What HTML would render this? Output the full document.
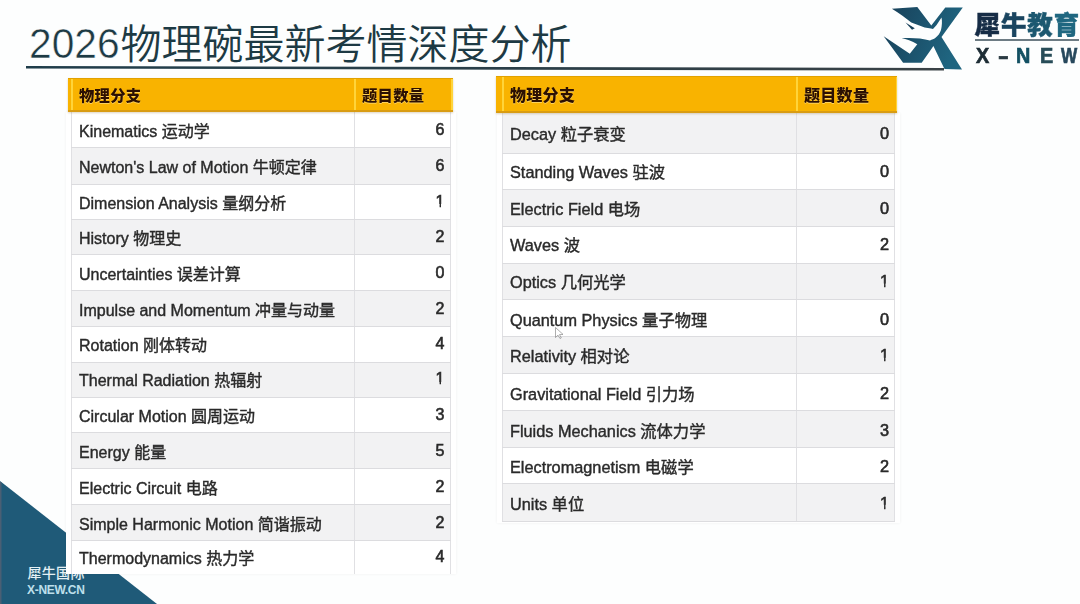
<!DOCTYPE html>
<html><head><meta charset="utf-8">
<style>
*{margin:0;padding:0;box-sizing:border-box}
html,body{width:1080px;height:604px;overflow:hidden;background:#fdfefe}
body{position:relative;-webkit-font-smoothing:antialiased;font-family:"Liberation Sans","Noto Sans CJK SC",sans-serif;color:#333}
.title{position:absolute;left:0;top:0;color:#1d3a44;white-space:nowrap}
.td{position:absolute;left:29px;top:18.5px;font-size:42.5px;line-height:50px;font-family:"Liberation Sans",sans-serif;transform:scaleX(0.958);transform-origin:0 0;-webkit-text-stroke:0.5px #fefefe}
.tc{position:absolute;left:120.5px;top:13px;font-size:41px;line-height:56px;font-family:"Noto Sans CJK SC",sans-serif;font-weight:350}
.uline{position:absolute;left:26px;top:66px;width:920px;height:2px;background:#2c4049}
.tri{position:absolute;left:0;top:0}
.frame{position:absolute;background:#fff;box-shadow:0 0 3px rgba(0,0,0,0.06)}
.row{position:absolute;will-change:transform;white-space:nowrap}
.row .lab{position:absolute;left:8px;top:50%;transform:translateY(-50%);color:#2a2a2a;-webkit-text-stroke:0.4px #2a2a2a}
.row .num{position:absolute;top:50%;transform:translateY(-50%);color:#2a2a2a;-webkit-text-stroke:0.6px #2a2a2a}
.one{clip-path:polygon(0 0,100% 0,100% 0.72em,0.338em 0.72em,0.338em 100%,0.252em 100%,0.252em 0.72em,0 0.72em)}
.vl{position:absolute;width:1px;background:#e0e0e3}
.hl{position:absolute;height:1px;background:#dcdcdf}
.hdr{position:absolute;background:#f9b300;border-top:1px solid #e2a200;border-bottom:2px solid #d99c12;box-shadow:0 1px 2px rgba(120,80,0,0.25)}
.hdr span{position:absolute;top:50%;transform:translateY(-50%);font-weight:900;color:#2c1002;font-family:"Noto Sans CJK SC",sans-serif;letter-spacing:0.3px;text-shadow:0 1px 0.5px rgba(255,235,170,0.55)}
.hdr .hv{position:absolute;top:0;bottom:0;width:1.5px;background:#ffd43a}
.logo{position:absolute;left:880px;top:0}
.brand{position:absolute;left:974.5px;top:6px;font-size:25.5px;font-weight:900;font-family:"Noto Sans CJK SC",sans-serif;line-height:34px;letter-spacing:0.9px;white-space:nowrap;-webkit-text-stroke:0.4px currentColor}
.brand span{-webkit-text-stroke:0.4px currentColor}
.bline{position:absolute;left:975px;top:39px;width:104px;height:1.5px;background:#6d7c84}
.xnew{position:absolute;left:975.8px;top:44.5px;font-size:22px;font-weight:700;line-height:22px;white-space:nowrap;font-family:"Liberation Sans",sans-serif;color:#1d4d5f}
.xnew span{position:absolute;top:0;transform:scaleX(0.9);transform-origin:0 0;-webkit-text-stroke:0.7px currentColor}
.wm1{position:absolute;left:27.5px;top:562.5px;font-size:14px;color:#e4f0f4;font-family:"Noto Sans CJK SC",sans-serif;font-weight:500;line-height:18px;letter-spacing:0.3px}
.wm2{position:absolute;left:27px;top:584px;font-size:12px;color:#cfeef8;font-weight:700;line-height:12px;letter-spacing:-0.3px;opacity:0.9}
</style></head><body>
<svg class="tri" width="1080" height="604"><polygon points="0,481 0,604 157,604" fill="#1f5a78"/><rect x="0" y="482" width="1.5" height="122" fill="#4a5f74"/></svg>
<div class="wm1">犀牛国际</div>
<div class="wm2">X-NEW.CN</div>
<div class="title"><span class="td">2026</span><span class="tc">物理碗最新考情深度分析</span></div>
<svg class="ul" width="1080" height="80" style="position:absolute;left:0;top:0"><defs><linearGradient id="ulg" x1="0" x2="1" y1="0" y2="0"><stop offset="0" stop-color="#1f3d4a"/><stop offset="0.6" stop-color="#2c3f48"/><stop offset="1" stop-color="#3a4246"/></linearGradient></defs><polygon points="26,66 944,68 944,70.6 26,68.6" fill="url(#ulg)"/></svg>
<div class="frame" style="left:66px;top:112px;width:389.5px;height:462.0px"></div>
<div class="row" style="left:71px;top:111.9px;width:379.5px;height:35.8px;background:#ffffff;font-size:16px"><span class="lab">Kinematics 运动学</span><span class="num" style="right:6px">6</span></div>
<div class="row" style="left:71px;top:147.7px;width:379.5px;height:36.5px;background:#f2f2f3;font-size:16px"><span class="lab">Newton&#39;s Law of Motion 牛顿定律</span><span class="num" style="right:6px">6</span></div>
<div class="row" style="left:71px;top:184.2px;width:379.5px;height:35.0px;background:#ffffff;font-size:16px"><span class="lab">Dimension Analysis 量纲分析</span><span class="num one" style="right:6px">1</span></div>
<div class="row" style="left:71px;top:219.2px;width:379.5px;height:35.3px;background:#f2f2f3;font-size:16px"><span class="lab">History 物理史</span><span class="num" style="right:6px">2</span></div>
<div class="row" style="left:71px;top:254.5px;width:379.5px;height:36.2px;background:#ffffff;font-size:16px"><span class="lab">Uncertainties 误差计算</span><span class="num" style="right:6px">0</span></div>
<div class="row" style="left:71px;top:290.7px;width:379.5px;height:35.7px;background:#f2f2f3;font-size:16px"><span class="lab">Impulse and Momentum 冲量与动量</span><span class="num" style="right:6px">2</span></div>
<div class="row" style="left:71px;top:326.4px;width:379.5px;height:35.8px;background:#ffffff;font-size:16px"><span class="lab">Rotation 刚体转动</span><span class="num" style="right:6px">4</span></div>
<div class="row" style="left:71px;top:362.2px;width:379.5px;height:34.8px;background:#f2f2f3;font-size:16px"><span class="lab">Thermal Radiation 热辐射</span><span class="num one" style="right:6px">1</span></div>
<div class="row" style="left:71px;top:397px;width:379.5px;height:35.5px;background:#ffffff;font-size:16px"><span class="lab">Circular Motion 圆周运动</span><span class="num" style="right:6px">3</span></div>
<div class="row" style="left:71px;top:432.5px;width:379.5px;height:36.1px;background:#f2f2f3;font-size:16px"><span class="lab">Energy 能量</span><span class="num" style="right:6px">5</span></div>
<div class="row" style="left:71px;top:468.6px;width:379.5px;height:36.2px;background:#ffffff;font-size:16px"><span class="lab">Electric Circuit 电路</span><span class="num" style="right:6px">2</span></div>
<div class="row" style="left:71px;top:504.8px;width:379.5px;height:35.6px;background:#f2f2f3;font-size:16px"><span class="lab">Simple Harmonic Motion 简谐振动</span><span class="num" style="right:6px">2</span></div>
<div class="row" style="left:71px;top:540.4px;width:379.5px;height:33.1px;background:#ffffff;font-size:16px"><span class="lab">Thermodynamics 热力学</span><span class="num" style="right:6px">4</span></div>
<div class="vl" style="left:71px;top:112px;height:461.5px"></div>
<div class="vl" style="left:354px;top:112px;height:461.5px"></div>
<div class="vl" style="left:449.5px;top:112px;height:461.5px"></div>
<div class="hl" style="left:71px;top:147.2px;width:379.5px"></div>
<div class="hl" style="left:71px;top:183.7px;width:379.5px"></div>
<div class="hl" style="left:71px;top:218.7px;width:379.5px"></div>
<div class="hl" style="left:71px;top:254.0px;width:379.5px"></div>
<div class="hl" style="left:71px;top:290.2px;width:379.5px"></div>
<div class="hl" style="left:71px;top:325.9px;width:379.5px"></div>
<div class="hl" style="left:71px;top:361.7px;width:379.5px"></div>
<div class="hl" style="left:71px;top:396.5px;width:379.5px"></div>
<div class="hl" style="left:71px;top:432.0px;width:379.5px"></div>
<div class="hl" style="left:71px;top:468.1px;width:379.5px"></div>
<div class="hl" style="left:71px;top:504.3px;width:379.5px"></div>
<div class="hl" style="left:71px;top:539.9px;width:379.5px"></div>
<div class="hdr" style="left:67.5px;top:77.6px;width:385.0px;height:34.4px;font-size:15.3px"><span class="h1" style="left:11.5px">物理分支</span><span class="h2" style="left:294.5px">题目数量</span><i class="hv" style="left:3.5px"></i><i class="hv" style="left:286.5px"></i><i class="hv" style="left:383.5px"></i></div>
<div class="frame" style="left:497px;top:112.7px;width:403px;height:410.3px"></div>
<div class="row" style="left:502px;top:112.7px;width:393px;height:40.6px;background:#f2f2f3;font-size:16.3px"><span class="lab">Decay 粒子衰变</span><span class="num" style="right:6px">0</span></div>
<div class="row" style="left:502px;top:153.3px;width:393px;height:35.9px;background:#ffffff;font-size:16.3px"><span class="lab">Standing Waves 驻波</span><span class="num" style="right:6px">0</span></div>
<div class="row" style="left:502px;top:189.2px;width:393px;height:37.2px;background:#f2f2f3;font-size:16.3px"><span class="lab">Electric Field 电场</span><span class="num" style="right:6px">0</span></div>
<div class="row" style="left:502px;top:226.4px;width:393px;height:36.6px;background:#ffffff;font-size:16.3px"><span class="lab">Waves 波</span><span class="num" style="right:6px">2</span></div>
<div class="row" style="left:502px;top:263px;width:393px;height:36.5px;background:#f2f2f3;font-size:16.3px"><span class="lab">Optics 几何光学</span><span class="num one" style="right:6px">1</span></div>
<div class="row" style="left:502px;top:299.5px;width:393px;height:37.1px;background:#ffffff;font-size:16.3px"><span class="lab">Quantum Physics 量子物理</span><span class="num" style="right:6px">0</span></div>
<div class="row" style="left:502px;top:336.6px;width:393px;height:36.9px;background:#f2f2f3;font-size:16.3px"><span class="lab">Relativity 相对论</span><span class="num one" style="right:6px">1</span></div>
<div class="row" style="left:502px;top:373.5px;width:393px;height:37.2px;background:#ffffff;font-size:16.3px"><span class="lab">Gravitational Field 引力场</span><span class="num" style="right:6px">2</span></div>
<div class="row" style="left:502px;top:410.7px;width:393px;height:37.1px;background:#f2f2f3;font-size:16.3px"><span class="lab">Fluids Mechanics 流体力学</span><span class="num" style="right:6px">3</span></div>
<div class="row" style="left:502px;top:447.8px;width:393px;height:36.0px;background:#ffffff;font-size:16.3px"><span class="lab">Electromagnetism 电磁学</span><span class="num" style="right:6px">2</span></div>
<div class="row" style="left:502px;top:483.8px;width:393px;height:37.2px;background:#f2f2f3;font-size:16.3px"><span class="lab">Units 单位</span><span class="num one" style="right:6px">1</span></div>
<div class="vl" style="left:502px;top:112.7px;height:408.3px"></div>
<div class="vl" style="left:796px;top:112.7px;height:408.3px"></div>
<div class="vl" style="left:894px;top:112.7px;height:408.3px"></div>
<div class="hl" style="left:502px;top:152.8px;width:393px"></div>
<div class="hl" style="left:502px;top:188.7px;width:393px"></div>
<div class="hl" style="left:502px;top:225.9px;width:393px"></div>
<div class="hl" style="left:502px;top:262.5px;width:393px"></div>
<div class="hl" style="left:502px;top:299.0px;width:393px"></div>
<div class="hl" style="left:502px;top:336.1px;width:393px"></div>
<div class="hl" style="left:502px;top:373.0px;width:393px"></div>
<div class="hl" style="left:502px;top:410.2px;width:393px"></div>
<div class="hl" style="left:502px;top:447.3px;width:393px"></div>
<div class="hl" style="left:502px;top:483.3px;width:393px"></div>
<div class="hl" style="left:502px;top:520.5px;width:393px"></div>
<div class="hdr" style="left:495.5px;top:76px;width:401.5px;height:36.7px;font-size:16px"><span class="h1" style="left:14.5px">物理分支</span><span class="h2" style="left:308.5px">题目数量</span><i class="hv" style="left:6.5px"></i><i class="hv" style="left:300.5px"></i><i class="hv" style="left:400.0px"></i></div>
<svg class="logo" width="90" height="75" viewBox="0 0 90 75">
 <defs><linearGradient id="lg" x1="0" y1="0" x2="1" y2="0.3"><stop offset="0" stop-color="#183f58"/><stop offset="1" stop-color="#1f6580"/></linearGradient></defs>
 <path fill="url(#lg)" d="M11.9,8.7 L37.3,7.1 L51.3,25.5 L65.3,7.5 L82.8,7.5 L61.5,37 L82,69.5 L64.5,69 L53.4,46 L50,50.9 L41.7,62.8 L23.1,62.8 L3.7,36.3 L29.8,53.8 L37.3,44.2 C32,41 26,39 21.6,38.2 C30,37.5 42,38 50,40.5 C52,39.8 54,39 55.2,38.1 C58,36 60,33 61,30 C62,26 62.3,21 61.5,17.6 L56.6,24.9 L53,29 L51,28.5 L44.7,27.6 L31.3,22.6 C26,18.5 19.5,13 11.9,8.7 Z"/>
 <path fill="#183f58" d="M25.5,22.5 L34.8,28.3 L32,29.8 Z"/>
</svg>
<svg style="position:absolute;left:553px;top:326px" width="14" height="14" viewBox="0 0 14 14"><path d="M2.5,1.5 L2.5,11.5 L5,9.2 L7,12.5 L8.3,11.8 L6.5,8.6 L10,8.4 Z" fill="rgba(255,255,255,0.6)" stroke="rgba(90,90,90,0.55)" stroke-width="0.9"/></svg>
<div class="brand"><span style="color:#162c46">犀</span><span style="color:#1a4560">牛</span><span style="color:#1c5870">教</span><span style="color:#1f6780">育</span></div>
<div class="bline"></div>
<div class="xnew"><span style="left:0;color:#1c2c34">X</span><span style="left:22.5px;color:#2a3a42;transform:scaleX(1.45)">-</span><span style="left:40.5px;color:#125062">N</span><span style="left:64px;color:#284c58">E</span><span style="left:85.5px;color:#27485c;transform:scaleX(0.78)">W</span></div>
</body></html>
